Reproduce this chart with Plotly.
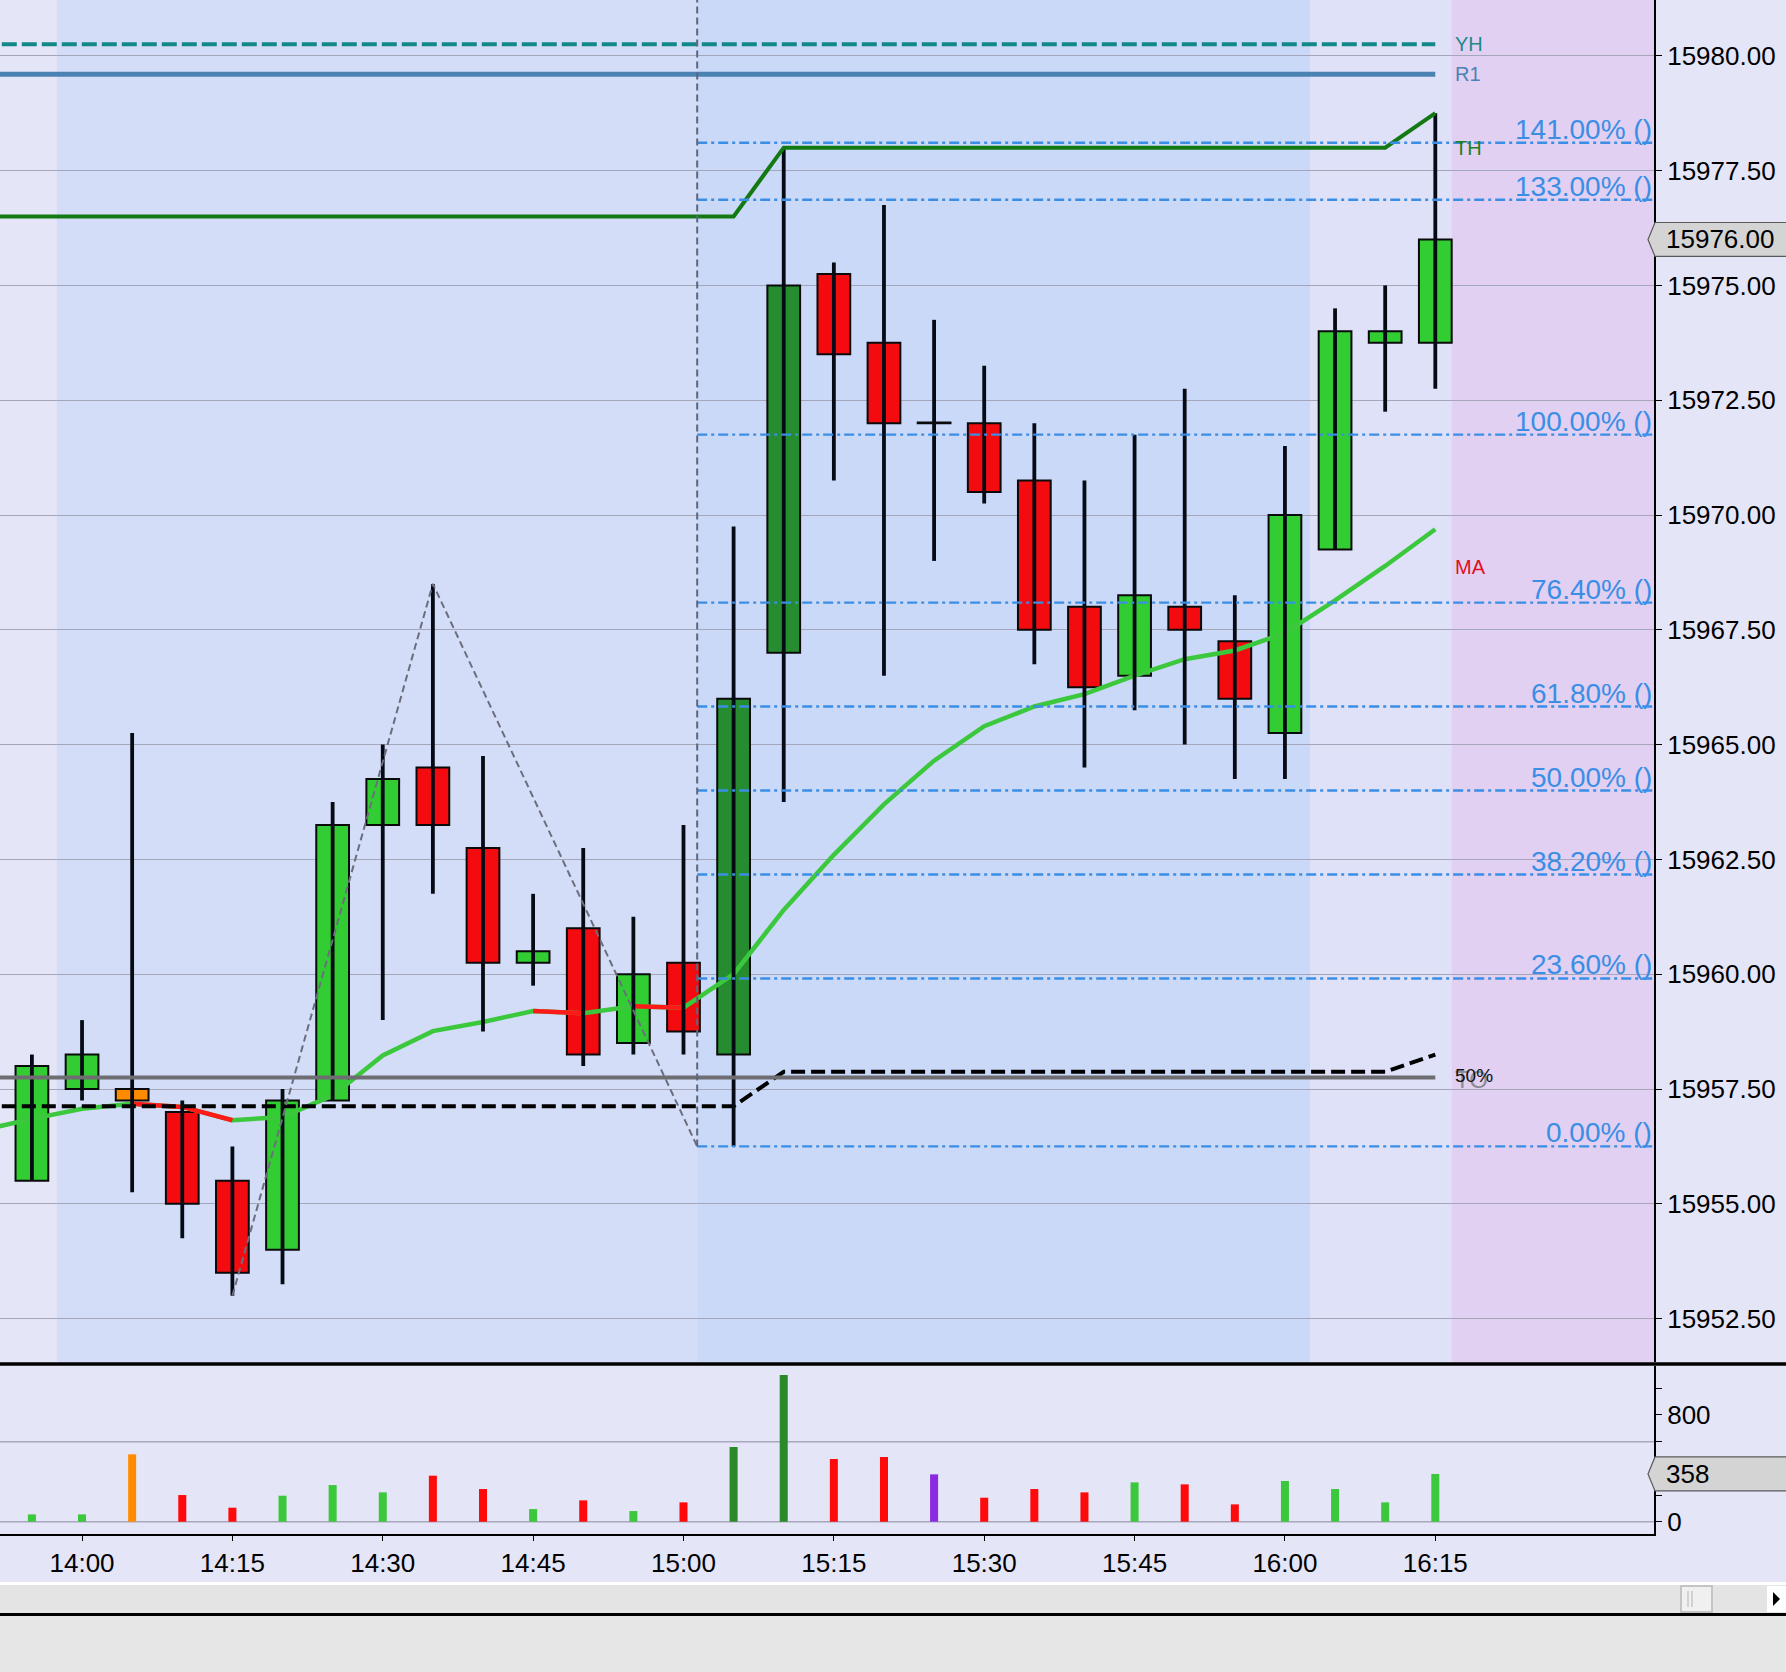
import pandas as pd
import plotly.graph_objects as go

DAY = "2023-12-01"

# ---------------- data ----------------
bar_times = ["13:55", "14:00", "14:05", "14:10", "14:15", "14:20", "14:25", "14:30", "14:35", "14:40",
             "14:45", "14:50", "14:55", "15:00", "15:05", "15:10", "15:15", "15:20", "15:25", "15:30",
             "15:35", "15:40", "15:45", "15:50", "15:55", "16:00", "16:05", "16:10", "16:15"]
open_ = [15955.5, 15957.5, 15957.5, 15957.0, 15955.5, 15954.0, 15957.25, 15963.25, 15964.5, 15962.75,
         15960.25, 15961.0, 15958.5, 15960.25, 15958.25, 15967.0, 15975.25, 15973.75, 15972.0, 15972.0,
         15970.75, 15968.0, 15966.5, 15968.0, 15967.25, 15965.25, 15969.25, 15973.75, 15973.75]
high = [15958.25, 15959.0, 15965.25, 15957.25, 15956.25, 15957.5, 15963.75, 15965.0, 15968.5, 15964.75,
        15961.75, 15962.75, 15961.25, 15963.25, 15969.75, 15978.0, 15975.5, 15976.75, 15974.25, 15973.25,
        15972.0, 15970.75, 15971.75, 15972.75, 15968.25, 15971.5, 15974.5, 15975.0, 15978.75]
low = [15955.5, 15957.25, 15955.25, 15954.25, 15953.0, 15953.25, 15957.25, 15959.0, 15961.75, 15958.75,
       15959.75, 15958.0, 15958.25, 15958.25, 15956.25, 15963.75, 15970.75, 15966.5, 15969.0, 15970.25,
       15966.75, 15964.5, 15965.75, 15965.0, 15964.25, 15964.25, 15969.25, 15972.25, 15972.75]
close = [15958.0, 15958.25, 15957.25, 15955.0, 15953.5, 15957.25, 15963.25, 15964.25, 15963.25, 15960.25,
         15960.5, 15958.25, 15960.0, 15958.75, 15966.0, 15975.0, 15973.5, 15972.0, 15972.0, 15970.5,
         15967.5, 15966.25, 15968.25, 15967.5, 15966.0, 15970.0, 15974.0, 15974.0, 15976.0]
volume = [55, 55, 505, 200, 105, 195, 275, 220, 345, 245,
          95, 160, 80, 145, 560, 1100, 470, 485, 355, 180,
          245, 220, 295, 280, 130, 305, 245, 145, 358]
bar_kind = ["up", "up", "flat", "down", "down", "up", "up", "up", "down", "down",
            "up", "down", "up", "down", "strong", "strong", "down", "down", "doji", "down",
            "down", "down", "up", "down", "down", "up", "up", "up", "up"]

line_times = ["13:50"] + bar_times
ma_values = [15956.6, 15956.85, 15957.07, 15957.18, 15957.11, 15956.82, 15956.89, 15957.36, 15958.23, 15958.76,
             15958.96, 15959.2, 15959.15, 15959.3, 15959.27, 15960.0, 15961.4, 15962.6, 15963.7, 15964.65,
             15965.4, 15965.83, 15966.1, 15966.5, 15966.86, 15967.05, 15967.43, 15968.14, 15968.89, 15969.69]
th_values = [15976.5, 15976.5, 15976.5, 15976.5, 15976.5, 15976.5, 15976.5, 15976.5, 15976.5, 15976.5,
             15976.5, 15976.5, 15976.5, 15976.5, 15976.5, 15976.5, 15978.0, 15978.0, 15978.0, 15978.0,
             15978.0, 15978.0, 15978.0, 15978.0, 15978.0, 15978.0, 15978.0, 15978.0, 15978.0, 15978.75]
mid_values = [15957.125, 15957.125, 15957.125, 15957.125, 15957.125, 15957.125, 15957.125, 15957.125,
              15957.125, 15957.125, 15957.125, 15957.125, 15957.125, 15957.125, 15957.125, 15957.125,
              15957.875, 15957.875, 15957.875, 15957.875, 15957.875, 15957.875, 15957.875, 15957.875,
              15957.875, 15957.875, 15957.875, 15957.875, 15957.875, 15958.25]

ref_times = ["13:50", "16:15"]
yh_level = 15980.25
r1_level = 15979.6
to_level = 15957.75

fib_start = "15:01:22"
fib_low = 15956.25
fib_high = 15971.75
fib_levels = [0.0, 23.6, 38.2, 50.0, 61.8, 76.4, 100.0, 133.0, 141.0]

zig_times = ["14:15", "14:35", "15:01:22"]
zig_values = [15953.0, 15968.5, 15956.25]

x_ticks = ["14:00", "14:15", "14:30", "14:45", "15:00", "15:15", "15:30", "15:45", "16:00", "16:15"]
vol_tickvals = [0, 200, 400, 600, 800, 1000]
vol_ticktext = ["0", "", "", "", "800", ""]
vol_gridvals = [0, 600]

# ---------------- layout geometry ----------------
W, H = 1786, 1672
PLOT_R = 1654
PLOT_B = 1534
MAIN_BOT = 1362
VOL_TOP = 1366

def T(s):
    return pd.Timestamp(f"{DAY} {s}")

X0, X1 = T("13:51:49"), T("16:36:49")
Y0, Y1 = 15951.555, 15981.215
V0, V1 = -92, 1167

def px_x(p):
    return p / PLOT_R

def px_y(p):
    return (PLOT_B - p) / PLOT_B

def main_py(v):
    return (Y1 - v) / (Y1 - Y0) * MAIN_BOT

def vol_py(v):
    return VOL_TOP + (V1 - v) / (V1 - V0) * (PLOT_B - VOL_TOP)

FONT = "Liberation Sans, Arial, sans-serif"
BG = "#E5E5F8"

t = [T(s) for s in bar_times]
lt = [T(s) for s in line_times]

KIND_COLOR = {"up": "#32CD32", "down": "#F40B10", "strong": "#268C30", "flat": "#FF8C00", "doji": "#000000"}
VOL_COLOR = {"up": "#3CC83C", "down": "#FF0A0A", "strong": "#2A8A2A", "flat": "#FF8C00", "doji": "#8A2BE2"}

fig = go.Figure()

# MA (green base + red falling segments)
fig.add_trace(go.Scatter(x=lt, y=ma_values, mode="lines", line=dict(color="#3CC83C", width=4.5),
                         hoverinfo="skip"))
rx, ry = [], []
for i in range(1, len(ma_values)):
    if ma_values[i] < ma_values[i - 1]:
        rx += [lt[i - 1], lt[i], None]
        ry += [ma_values[i - 1], ma_values[i], None]
fig.add_trace(go.Scatter(x=rx, y=ry, mode="lines", line=dict(color="#FF1A1A", width=4.5), hoverinfo="skip"))

# 50% line
fig.add_trace(go.Scatter(x=lt, y=mid_values, mode="lines",
                         line=dict(color="#000000", width=4, dash="14px,6px"), hoverinfo="skip"))

# wicks
wx, wy = [], []
for ti, lo, hi in zip(t, low, high):
    wx += [ti, ti, None]
    wy += [lo, hi, None]
fig.add_trace(go.Scatter(x=wx, y=wy, mode="lines", line=dict(color="#050a14", width=3.8), hoverinfo="skip"))

# bodies
base = [min(o, c) for o, c in zip(open_, close)]
hgt = [max(abs(c - o), 0.012) for o, c in zip(open_, close)]
fig.add_trace(go.Bar(x=t, y=hgt, base=base, width=196000,
                     marker=dict(color=[KIND_COLOR[k] for k in bar_kind],
                                 line=dict(color="#0a0a0a", width=2)),
                     hoverinfo="skip"))

# TO line
fig.add_trace(go.Scatter(x=[T(s) for s in ref_times], y=[to_level, to_level], mode="lines",
                         line=dict(color="#6E6E72", width=4), hoverinfo="skip"))
# YH
fig.add_trace(go.Scatter(x=[T(s) for s in ref_times], y=[yh_level, yh_level], mode="lines",
                         line=dict(color="#138888", width=4, dash="15px,5px"), hoverinfo="skip"))
# R1
fig.add_trace(go.Scatter(x=[T(s) for s in ref_times], y=[r1_level, r1_level], mode="lines",
                         line=dict(color="#4A82B4", width=5), hoverinfo="skip"))
# TH
fig.add_trace(go.Scatter(x=lt, y=th_values, mode="lines", line=dict(color="#137A13", width=4),
                         hoverinfo="skip"))

# Fibonacci lines
fx, fy = [], []
fib_vals = [fib_low + (fib_high - fib_low) * lv / 100.0 for lv in fib_levels]
for fv in fib_vals:
    fx += [T(fib_start), X1, None]
    fy += [fv, fv, None]
fig.add_trace(go.Scatter(x=fx, y=fy, mode="lines",
                         line=dict(color="#3A8EE6", width=2.4, dash="10px,4px,3px,4px"), hoverinfo="skip"))

# zigzag
fig.add_trace(go.Scatter(x=[T(s) for s in zig_times], y=zig_values, mode="lines",
                         line=dict(color="#6C6E7C", width=2, dash="7px,4px"), hoverinfo="skip"))
# vertical anchor line
fig.add_trace(go.Scatter(x=[T(fib_start), T(fib_start)], y=[fib_low, Y1], mode="lines",
                         line=dict(color="#5C667C", width=2, dash="7px,4px"), hoverinfo="skip"))

# volume
fig.add_trace(go.Bar(x=t, y=volume, width=48000, xaxis="x2", yaxis="y2",
                     marker=dict(color=[VOL_COLOR[k] for k in bar_kind], line=dict(width=0)),
                     hoverinfo="skip"))

main_dom = [px_y(MAIN_BOT), 1]
vol_dom = [0, px_y(VOL_TOP)]

shapes = []
# background shading regions
bands = [(T("13:57:30"), T(fib_start), "#D3DDF8"),
         (T(fib_start), T("16:02:30"), "#CAD9F8"),
         (T("16:02:30"), T("16:16:39"), "#DFE1F8"),
         (T("16:16:39"), X1, "#E1D0F1")]
for a, b, c in bands:
    shapes.append(dict(type="rect", xref="x", yref="y", x0=a, x1=b, y0=Y0, y1=Y1,
                       fillcolor=c, line=dict(width=0), layer="below"))
# volume grid lines
for gv in vol_gridvals:
    shapes.append(dict(type="line", xref="paper", yref="paper", x0=0, x1=1,
                       y0=px_y(vol_py(gv)), y1=px_y(vol_py(gv)),
                       line=dict(color="#A8A8BC", width=1.5), layer="below"))
# panel separator
shapes.append(dict(type="line", xref="paper", yref="paper", x0=0, x1=W / PLOT_R,
                   y0=px_y(1364), y1=px_y(1364), line=dict(color="#000000", width=3.5)))
# bottom scroll area
shapes.append(dict(type="rect", xref="paper", yref="paper", x0=0, x1=W / PLOT_R,
                   y0=px_y(1582), y1=px_y(1585), fillcolor="#FFFFFF", line=dict(width=0)))
shapes.append(dict(type="rect", xref="paper", yref="paper", x0=0, x1=W / PLOT_R,
                   y0=px_y(1585), y1=px_y(1613), fillcolor="#E4E4E4", line=dict(width=0)))
shapes.append(dict(type="rect", xref="paper", yref="paper", x0=0, x1=W / PLOT_R,
                   y0=px_y(1616), y1=px_y(H + 2), fillcolor="#E6E6E6", line=dict(width=0)))
shapes.append(dict(type="line", xref="paper", yref="paper", x0=0, x1=W / PLOT_R,
                   y0=px_y(1614.5), y1=px_y(1614.5), line=dict(color="#000000", width=3)))
shapes.append(dict(type="rect", xref="paper", yref="paper", x0=px_x(1681), x1=px_x(1712),
                   y0=px_y(1586), y1=px_y(1612), fillcolor="#F0F0F0", line=dict(color="#C4C4C4", width=2)))
for lx in (1688, 1692):
    shapes.append(dict(type="line", xref="paper", yref="paper", x0=px_x(lx), x1=px_x(lx),
                       y0=px_y(1591), y1=px_y(1607), line=dict(color="#C8C8C8", width=1.5)))
shapes.append(dict(type="rect", xref="paper", yref="paper", x0=px_x(1767), x1=px_x(W + 2),
                   y0=px_y(1586), y1=px_y(1612), fillcolor="#FFFFFF", line=dict(width=0)))
tri = [(1773, 1592), (1780, 1599), (1773, 1606)]
shapes.append(dict(type="path", xref="paper", yref="paper",
                   path="M " + " L ".join(f"{px_x(a):.5f},{px_y(b):.5f}" for a, b in tri) + " Z",
                   fillcolor="#000000", line=dict(width=0)))


def arrow_box(pyc, half_h):
    pts = [(1648, pyc), (1655, pyc - half_h), (W + 5, pyc - half_h), (W + 5, pyc + half_h), (1655, pyc + half_h)]
    return "M " + " L ".join(f"{px_x(a):.5f},{px_y(b):.5f}" for a, b in pts) + " Z"


price_py = main_py(close[-1])
vol_label_py = vol_py(volume[-1])
shapes.append(dict(type="path", xref="paper", yref="paper", path=arrow_box(price_py, 17),
                   fillcolor="#D4D4D4", line=dict(color="#5A5A5A", width=1.2)))
shapes.append(dict(type="path", xref="paper", yref="paper", path=arrow_box(vol_label_py, 17),
                   fillcolor="#D4D4D4", line=dict(color="#5A5A5A", width=1.2)))

annotations = []
label_x = t[-1] + pd.Timedelta(seconds=106)
line_labels = [("YH", yh_level, "#1B8A8A", 20),
               ("R1", r1_level, "#4A82B4", 20),
               ("TH", th_values[-2], "#1F7F1F", 20),
               ("MA", ma_values[-1] - 0.82, "#E0101E", 20),
               ("TO", to_level - 0.05, "#8C8C94", 24),
               ("50%", to_level + 0.05, "#101010", 19)]
for txt, yv, col, sz in line_labels:
    annotations.append(dict(x=label_x, y=yv, xref="x", yref="y", text=txt, showarrow=False,
                            xanchor="left", yanchor="middle", font=dict(family=FONT, size=sz, color=col)))
for lv, fv in zip(fib_levels, fib_vals):
    annotations.append(dict(x=1, y=fv, xref="paper", yref="y", text=f"{lv:.2f}% ()", showarrow=False,
                            xanchor="right", yanchor="bottom", yshift=-4,
                            font=dict(family=FONT, size=28, color="#3A8EE6")))
annotations.append(dict(x=px_x(1664), y=px_y(price_py), xref="paper", yref="paper", text=f"{close[-1]:.2f}",
                        showarrow=False, xanchor="left", yanchor="middle",
                        font=dict(family=FONT, size=26, color="#000000")))
annotations.append(dict(x=px_x(1664), y=px_y(vol_label_py), xref="paper", yref="paper", text=f"{volume[-1]}",
                        showarrow=False, xanchor="left", yanchor="middle",
                        font=dict(family=FONT, size=26, color="#000000")))

fig.update_layout(
    width=W, height=H,
    margin=dict(l=0, r=W - PLOT_R, t=0, b=H - PLOT_B, pad=0),
    paper_bgcolor=BG, plot_bgcolor=BG,
    showlegend=False, barmode="overlay",
    shapes=shapes, annotations=annotations,
    xaxis=dict(domain=[0, 1], anchor="y", range=[X0, X1], showticklabels=False, ticks="",
               showgrid=False, zeroline=False, showline=False, automargin=False),
    yaxis=dict(domain=main_dom, anchor="x", side="right", range=[Y0, Y1], tick0=15950, dtick=2.5,
               tickformat=".2f", showgrid=True, gridcolor="#A4A6BA", gridwidth=1, zeroline=False,
               showline=True, linecolor="#000000", linewidth=2, ticks="outside", ticklen=6,
               tickcolor="#000000", tickfont=dict(family=FONT, size=26, color="#000000"),
               automargin=False),
    xaxis2=dict(domain=[0, 1], anchor="y2", range=[X0, X1], matches="x",
                tickvals=[T(s) for s in x_ticks], tickformat="%H:%M",
                showgrid=False, zeroline=False, showline=True, linecolor="#000000", linewidth=2,
                ticks="outside", ticklen=5, tickcolor="#000000",
                tickfont=dict(family=FONT, size=26, color="#000000"), automargin=False),
    yaxis2=dict(domain=vol_dom, anchor="x2", side="right", range=[V0, V1],
                tickvals=vol_tickvals, ticktext=vol_ticktext, showgrid=False, zeroline=False,
                showline=True, linecolor="#000000", linewidth=2, ticks="outside", ticklen=6,
                tickcolor="#000000", tickfont=dict(family=FONT, size=26, color="#000000"),
                automargin=False),
)

fig.write_html("out.html", config={"displayModeBar": False},
               post_script="document.body.style.margin='0';document.body.style.padding='0';"
                           "document.body.style.overflow='hidden';")
